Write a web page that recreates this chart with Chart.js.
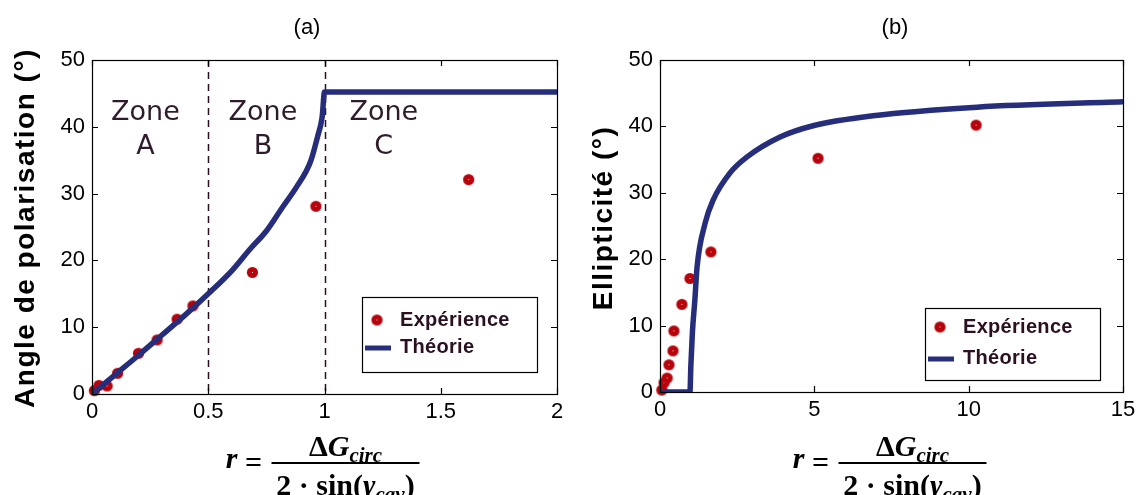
<!doctype html>
<html>
<head>
<title>Angle de polarisation / Ellipticite</title>
<script src="https://cdn.jsdelivr.net/npm/chart.js@4.4.1/dist/chart.umd.min.js"></script>
<style>
body { margin: 0; background: #fff; }
#wrap { position: relative; width: 1138px; height: 495px; overflow: hidden; }
.pane { position: absolute; top: 0; width: 569px; height: 495px; }
</style>
</head>
<body>
<div id="wrap">
	<div class="pane" style="left:0"><canvas id="chartA" width="569" height="495"></canvas></div>
	<div class="pane" style="left:569px"><canvas id="chartB" width="569" height="495"></canvas></div>
</div>
<script>
// (a) angle de polarisation vs r
var aExpX = [0.01, 0.03, 0.065, 0.11, 0.2, 0.28, 0.366, 0.434, 0.69, 0.963, 1.62];
var aExpY = [0.5, 1.3, 1.2, 3.1, 6.1, 8.1, 11.2, 13.2, 18.2, 28.1, 32.1];
var aTheoX = [0, 0.1, 0.2, 0.3, 0.4, 0.5, 0.6, 0.68, 0.75, 0.82, 0.88, 0.94, 0.97, 0.99, 1.0, 2.0];
var aTheoY = [0, 2.9, 5.8, 8.8, 11.8, 15.0, 18.4, 21.7, 24.4, 28.0, 31.0, 34.8, 38.5, 41.5, 45.2, 45.2];

// (b) ellipticite vs r
var bExpX = [0.06, 0.13, 0.23, 0.29, 0.42, 0.45, 0.71, 0.97, 1.65, 5.12, 10.24];
var bExpY = [0.3, 1.4, 2.1, 4.1, 6.2, 9.2, 13.2, 17.1, 21.1, 35.2, 40.2];
var bTheoX = [0, 0.97, 1.0, 1.05, 1.13, 1.2, 1.46, 1.72, 2.27, 2.82, 3.89, 4.96, 6.9, 10.27, 15];
var bTheoY = [0, 0, 4, 9, 13.9, 18.8, 25.4, 28.9, 33.0, 35.4, 38.4, 40.1, 41.6, 42.9, 43.7];

var aXTicks = [0, 0.5, 1, 1.5, 2];
var bXTicks = [0, 5, 10, 15];
var yTicks = [0, 10, 20, 30, 40, 50];

var zoneBounds = [0.5, 1];
var zoneNames = ['A', 'B', 'C'];
var zoneLabelX = [0.23, 0.735, 1.255];
var zoneLabelY = [42.1, 37];

var seriesNames = ['Expérience', 'Théorie'];
var panelTitles = ['(a)', '(b)'];
var yTitles = ['Angle de polarisation (°)', 'Ellipticité (°)'];

var RED = '#b7040c';
var NAVY = '#262e7c';
var DARK = '#2b1022';

var toXY = function(xs, ys){ return xs.map(function(x, i){ return {x: x, y: ys[i]}; }); };

// red dot with a tiny light centre
var dot = document.createElement('canvas');
dot.width = 13; dot.height = 13;
(function(){
	var c = dot.getContext('2d');
	c.fillStyle = RED;
	c.beginPath(); c.arc(6.5, 6.5, 5.6, 0, Math.PI * 2); c.fill();
	c.fillStyle = '#f6d0d0';
	c.fillRect(6, 6, 1, 1);
})();

function drawRuns(ctx, runs, cx, baseline){
	var w = 0;
	runs.forEach(function(r){ ctx.font = r[1]; w += ctx.measureText(r[0]).width; });
	var x = cx - w / 2;
	runs.forEach(function(r){
		ctx.font = r[1];
		ctx.fillText(r[0], x, baseline + r[2]);
		x += ctx.measureText(r[0]).width;
	});
	return w;
}

function drawFormula(ctx, cx, lineY){
	var big = 'bold 30px "Liberation Serif"';
	var bigIt = 'italic bold 30px "Liberation Serif"';
	var sub = 'italic bold 21px "Liberation Serif"';
	ctx.save();
	ctx.fillStyle = '#000';
	ctx.textAlign = 'left';
	ctx.textBaseline = 'alphabetic';
	var w1 = drawRuns(ctx, [['Δ', big, 0], ['G', bigIt, 0], ['circ', sub, 6]], cx, lineY - 7);
	var w2 = drawRuns(ctx, [['2 · sin(', big, 0], ['γ', bigIt, 0], ['cav', sub, 6], [')', big, 0]], cx, lineY + 32);
	var w = Math.max(w1, w2, 146) + 2;
	ctx.strokeStyle = '#000';
	ctx.lineWidth = 2;
	ctx.beginPath(); ctx.moveTo(cx - w / 2, lineY); ctx.lineTo(cx + w / 2, lineY); ctx.stroke();
	ctx.textAlign = 'center';
	ctx.font = big;
	ctx.fillText('=', cx - w / 2 - 18, lineY + 9);
	ctx.font = bigIt;
	ctx.fillText('r', cx - w / 2 - 40, lineY + 5);
	ctx.restore();
}

function panelPlugin(s){
	return {
		id: 'panel',
		beforeDatasetsDraw: function(chart){
			var ctx = chart.ctx, a = chart.chartArea, xs = chart.scales.x, ys = chart.scales.y;
			if (!s.zones) return;
			ctx.save();
			ctx.strokeStyle = DARK;
			ctx.lineWidth = 1.5;
			ctx.setLineDash([7, 5]);
			zoneBounds.forEach(function(v){
				var px = Math.round(xs.getPixelForValue(v)) + 0.5;
				ctx.beginPath(); ctx.moveTo(px, a.top); ctx.lineTo(px, a.bottom); ctx.stroke();
			});
			ctx.setLineDash([]);
			ctx.fillStyle = '#2e1b2c';
			ctx.font = '27px "DejaVu Sans"';
			ctx.textAlign = 'center';
			ctx.textBaseline = 'middle';
			zoneNames.forEach(function(n, i){
				var px = xs.getPixelForValue(zoneLabelX[i]);
				ctx.fillText('Zone', px, ys.getPixelForValue(zoneLabelY[0]));
				ctx.fillText(n, px, ys.getPixelForValue(zoneLabelY[1]));
			});
			ctx.restore();
		},
		afterDraw: function(chart){
			var ctx = chart.ctx, a = chart.chartArea, xs = chart.scales.x, ys = chart.scales.y;
			ctx.save();
			// box and inward ticks
			ctx.strokeStyle = '#000';
			ctx.lineWidth = 1.2;
			ctx.strokeRect(a.left + 0.5, a.top + 0.5, a.right - a.left, a.bottom - a.top);
			ctx.beginPath();
			xs.ticks.forEach(function(t){
				var px = Math.round(xs.getPixelForValue(t.value)) + 0.5;
				ctx.moveTo(px, a.bottom); ctx.lineTo(px, a.bottom - 6);
				ctx.moveTo(px, a.top); ctx.lineTo(px, a.top + 6);
			});
			ys.ticks.forEach(function(t){
				var py = Math.round(ys.getPixelForValue(t.value)) + 0.5;
				ctx.moveTo(a.left, py); ctx.lineTo(a.left + 6, py);
				ctx.moveTo(a.right, py); ctx.lineTo(a.right - 6, py);
			});
			ctx.stroke();

			// legend
			var bw = 175, bh = s.legendH;
			var bx = a.right - s.legendRight - bw, by = a.bottom - s.legendBottom - bh;
			ctx.fillStyle = '#fff';
			ctx.fillRect(bx, by, bw, bh);
			ctx.lineWidth = 1.2;
			ctx.strokeRect(bx + 0.5, by + 0.5, bw, bh);
			ctx.drawImage(dot, bx + 15 - 6.5, by + s.row1 - 6.5);
			ctx.strokeStyle = NAVY;
			ctx.lineWidth = 5;
			ctx.beginPath(); ctx.moveTo(bx + 3, by + s.row2 + 1); ctx.lineTo(bx + 29, by + s.row2 + 1); ctx.stroke();
			ctx.fillStyle = DARK;
			ctx.font = 'bold 20px "Liberation Sans"';
			ctx.letterSpacing = '0.3px';
			ctx.textAlign = 'left';
			ctx.textBaseline = 'middle';
			ctx.fillText(seriesNames[0], bx + 38, by + s.row1);
			ctx.fillText(seriesNames[1], bx + 38, by + s.row2);
			ctx.letterSpacing = '0px';

			// title
			ctx.fillStyle = '#000';
			ctx.font = '22px "Liberation Sans"';
			ctx.textAlign = 'center';
			ctx.fillText(s.title, s.titleX, 28);

			// y title
			ctx.save();
			ctx.translate(s.yTitleX, s.yTitleY);
			ctx.rotate(-Math.PI / 2);
			ctx.font = 'bold 28px "Liberation Sans"';
			ctx.letterSpacing = '1.5px';
			ctx.textAlign = 'center';
			ctx.textBaseline = 'middle';
			ctx.fillText(s.yTitle, 0, 0);
			ctx.restore();

			ctx.restore();
			drawFormula(ctx, (a.left + a.right) / 2 + 21, 463);
		}
	};
}

function makeChart(id, expX, expY, theoX, theoY, xMax, xTicks, right, xHeight, s){
	return new Chart(document.getElementById(id).getContext('2d'), {
		type: 'scatter',
		data: {
			datasets: [
				{
					label: seriesNames[1],
					data: toXY(theoX, theoY),
					showLine: true,
					borderColor: NAVY,
					backgroundColor: NAVY,
					borderWidth: 5.5,
					pointRadius: 0,
					cubicInterpolationMode: 'monotone'
				},
				{
					label: seriesNames[0],
					data: toXY(expX, expY),
					pointStyle: dot,
					pointRadius: 5,
					clip: false
				}
			]
		},
		options: {
			responsive: false,
			animation: false,
			layout: { padding: { top: 60, right: right, left: 0, bottom: 0 } },
			plugins: { legend: { display: false }, tooltip: { enabled: false } },
			scales: {
				x: {
					type: 'linear', min: 0, max: xMax,
					grid: { display: false, drawTicks: false },
					border: { display: false },
					afterBuildTicks: function(sc){ sc.ticks = xTicks.map(function(v){ return {value: v}; }); },
					afterFit: function(sc){ sc.height = xHeight; sc.paddingLeft = 0; sc.paddingRight = 0; },
					ticks: {
						padding: 5, maxRotation: 0, color: '#000', autoSkip: false,
						font: { family: '"Liberation Sans"', size: 22 },
						callback: function(v){ return String(v); }
					}
				},
				y: {
					type: 'linear', min: 0, max: 50,
					grid: { display: false, drawTicks: false },
					border: { display: false },
					afterBuildTicks: function(sc){ sc.ticks = yTicks.map(function(v){ return {value: v}; }); },
					afterFit: function(sc){ sc.width = s.yWidth; sc.paddingTop = 0; sc.paddingBottom = 0; },
					ticks: {
						padding: 7, color: '#000', autoSkip: false,
						font: { family: '"Liberation Sans"', size: 22 },
						callback: function(v){ return String(v); }
					}
				}
			}
		},
		plugins: [panelPlugin(s)]
	});
}

makeChart('chartA', aExpX, aExpY, aTheoX, aTheoY, 2, aXTicks, 12, 101, {
	zones: true, yWidth: 92,
	title: panelTitles[0], titleX: 307,
	yTitle: yTitles[0], yTitleX: 26, yTitleY: 228,
	legendRight: 20, legendBottom: 22, legendH: 75, row1: 23, row2: 50
});
makeChart('chartB', bExpX, bExpY, bTheoX, bTheoY, 15, bXTicks, 15, 103, {
	zones: false, yWidth: 91,
	title: panelTitles[1], titleX: 326,
	yTitle: yTitles[1], yTitleX: 35, yTitleY: 218,
	legendRight: 23, legendBottom: 12, legendH: 72, row1: 19, row2: 50
});
</script>
</body>
</html>
